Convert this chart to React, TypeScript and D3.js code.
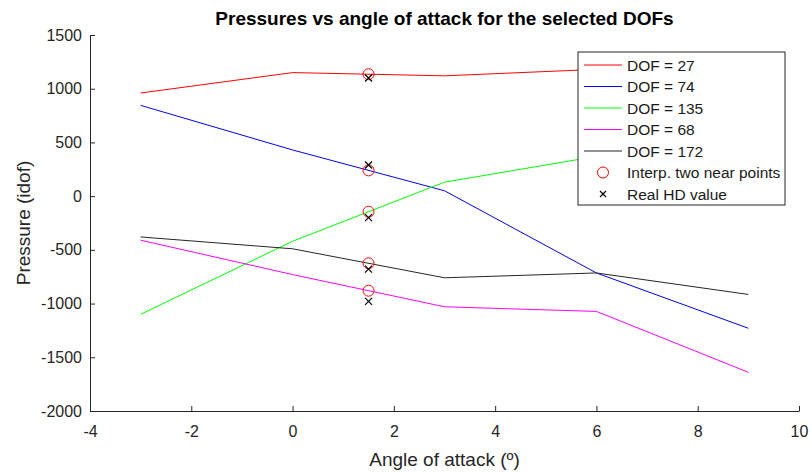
import React, { useEffect, useRef } from "react";
import * as d3 from "d3";

// angles of attack where the DOFs were sampled
const angles = [-3, 0, 3, 6, 9];

const dof27 = [960, 1150, 1120, 1180, 1230];
const dof74 = [845, 430, 50, -715, -1230];
const dof135 = [-1100, -420, 130, 370, 450];
const dof68 = [-410, -730, -1030, -1073, -1640];
const dof172 = [-380, -490, -760, -715, -915];

const seriesNames = ["DOF = 27", "DOF = 74", "DOF = 135", "DOF = 68", "DOF = 172"];
const seriesColors = ["#ff0000", "#0000ff", "#00ff00", "#ff00ff", "#262626"];

// selected angle and the two estimates there
const queryAngle = 1.5;
const interpValues = [1135, 240, -145, -880, -625];
const realValues = [1100, 290, -200, -980, -680];

const xTicks = [-4, -2, 0, 2, 4, 6, 8, 10];
const yTicks = [-2000, -1500, -1000, -500, 0, 500, 1000, 1500];

const App: React.FC = () => {
  const svgRef = useRef<SVGSVGElement>(null);

  useEffect(() => {
    if (!svgRef.current) return;
    document.body.style.margin = "0";
    const width = 812;
    const height = 473;
    const svg = d3.select(svgRef.current);
    svg.selectAll("*").remove();

    const margin = { top: 35, right: 13, bottom: 62, left: 90 };
    const innerW = width - margin.left - margin.right;
    const innerH = height - margin.top - margin.bottom;
    const font = "'Liberation Sans', Arial, sans-serif";
    const axisColor = "#262626";

    svg.append("rect").attr("width", width).attr("height", height).attr("fill", "#ffffff");

    const g = svg.append("g").attr("transform", `translate(${margin.left},${margin.top})`);

    const x = d3.scaleLinear().domain([-4, 10]).range([0, innerW]);
    const y = d3.scaleLinear().domain([-2000, 1500]).range([innerH, 0]);

    const fmt = (d: any) => String(d);
    const xAxis = g.append("g")
      .attr("transform", `translate(0,${innerH})`)
      .call(d3.axisBottom(x).tickValues(xTicks).tickFormat(fmt).tickSizeInner(-5).tickSizeOuter(0).tickPadding(15));
    const yAxis = g.append("g")
      .call(d3.axisLeft(y).tickValues(yTicks).tickFormat(fmt).tickSizeInner(-5).tickSizeOuter(0).tickPadding(8));

    [xAxis, yAxis].forEach(ax => {
      ax.selectAll("path, line").attr("stroke", axisColor);
      ax.selectAll("text")
        .attr("fill", axisColor)
        .style("font-size", "16px")
        .style("font-family", font);
    });

    const line = d3.line<number>()
      .x((_, i) => x(angles[i]))
      .y(d => y(d));

    const series = [dof27, dof74, dof135, dof68, dof172];
    series.forEach((vals, i) => {
      g.append("path")
        .datum(vals)
        .attr("d", line)
        .attr("fill", "none")
        .attr("stroke", seriesColors[i])
        .attr("stroke-width", 1);
    });

    g.selectAll(".interp")
      .data(interpValues)
      .join("circle")
      .attr("class", "interp")
      .attr("cx", x(queryAngle))
      .attr("cy", d => y(d))
      .attr("r", 5.5)
      .attr("fill", "none")
      .attr("stroke", "#ff0000")
      .attr("stroke-width", 1);

    const cross = (sel: any, cx: number, cy: number, s: number) => {
      sel.append("path")
        .attr("d", `M${cx - s},${cy - s}L${cx + s},${cy + s}M${cx - s},${cy + s}L${cx + s},${cy - s}`)
        .attr("stroke", "#000000")
        .attr("stroke-width", 1.2)
        .attr("fill", "none");
    };
    realValues.forEach(v => cross(g, x(queryAngle), y(v), 3.5));

    // legend
    const lg = svg.append("g").attr("transform", "translate(578,52)");
    lg.append("rect")
      .attr("width", 207)
      .attr("height", 153)
      .attr("fill", "#ffffff")
      .attr("stroke", "#262626")
      .attr("stroke-width", 1);
    const rowY = (i: number) => 13 + i * 21.5;
    const legendText = (i: number, label: string) =>
      lg.append("text")
        .attr("x", 49).attr("y", rowY(i) + 5.5)
        .attr("fill", "#1a1a1a")
        .style("font-size", "15.5px")
        .style("font-family", font)
        .text(label);
    seriesNames.forEach((name, i) => {
      lg.append("line")
        .attr("x1", 6).attr("x2", 44)
        .attr("y1", rowY(i)).attr("y2", rowY(i))
        .attr("stroke", seriesColors[i]);
      legendText(i, name);
    });
    lg.append("circle")
      .attr("cx", 25).attr("cy", rowY(5)).attr("r", 5.5)
      .attr("fill", "none").attr("stroke", "#ff0000");
    legendText(5, "Interp. two near points");
    cross(lg, 25, rowY(6), 3);
    legendText(6, "Real HD value");

    // title and axis labels
    svg.append("text")
      .attr("x", margin.left + innerW / 2)
      .attr("y", 25)
      .attr("text-anchor", "middle")
      .style("font-size", "19px")
      .style("font-weight", "bold")
      .style("font-family", font)
      .attr("fill", "#000")
      .text("Pressures vs angle of attack for the selected DOFs");

    svg.append("text")
      .attr("x", margin.left + innerW / 2)
      .attr("y", 466)
      .attr("text-anchor", "middle")
      .style("font-size", "19px")
      .style("font-family", font)
      .attr("fill", axisColor)
      .text("Angle of attack (º)");

    svg.append("text")
      .attr("transform", `translate(30,${margin.top + innerH / 2}) rotate(-90)`)
      .attr("text-anchor", "middle")
      .style("font-size", "19px")
      .style("font-family", font)
      .attr("fill", axisColor)
      .text("Pressure (idof)");
  }, []);

  return <svg ref={svgRef} width={812} height={473} style={{ display: "block" }} />;
};

export default App;
